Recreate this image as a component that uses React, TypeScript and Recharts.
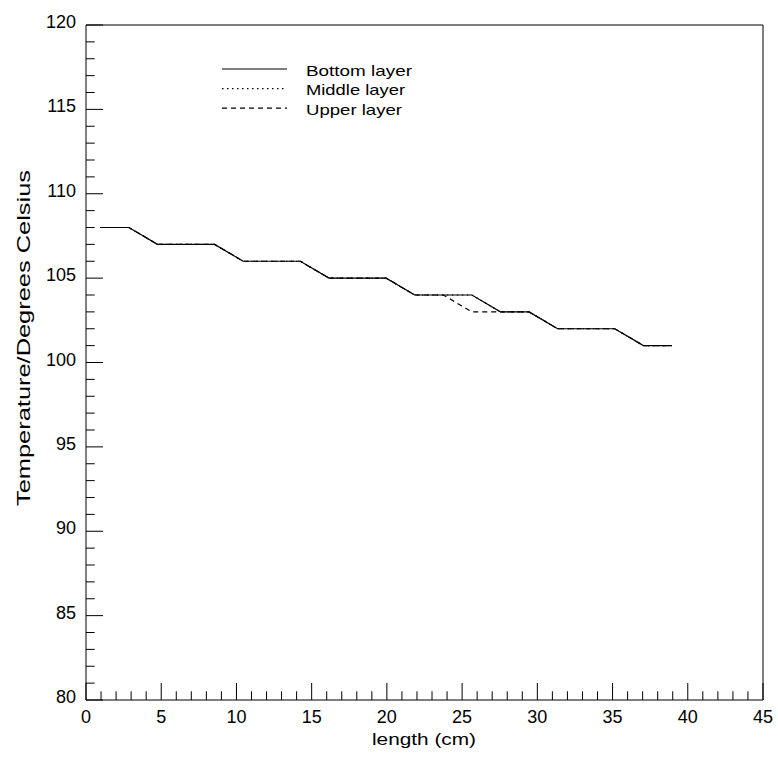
import React from 'react';
import { LineChart, Line, XAxis, YAxis, ReferenceLine } from 'recharts';

// positions along the plate (cm)
const lengthCm = [0.95, 2.85, 4.75, 6.65, 8.55, 10.45, 12.35, 14.25, 16.15, 18.05, 19.95, 21.85, 23.75, 25.65, 27.55, 29.45, 31.35, 33.25, 35.15, 37.05, 38.95];
const bottomLayer = [108, 108, 107, 107, 107, 106, 106, 106, 105, 105, 105, 104, 104, 104, 103, 103, 102, 102, 102, 101, 101];
const middleLayer = [108, 108, 107, 107, 107, 106, 106, 106, 105, 105, 105, 104, 104, 104, 103, 103, 102, 102, 102, 101, 101];
const upperLayer = [108, 108, 107, 107, 107, 106, 106, 106, 105, 105, 105, 104, 104, 103, 103, 103, 102, 102, 102, 101, 101];

const xTicks = Array.from({ length: 46 }, (_, i) => i);
const yTicks = Array.from({ length: 41 }, (_, i) => 80 + i);

const data = lengthCm.map((x, i) => ({
  x,
  bottom: bottomLayer[i],
  middle: middleLayer[i],
  upper: upperLayer[i],
}));

const FONT = '"Liberation Sans", Arial, Helvetica, sans-serif';

const XTick = (props: any) => {
  const { x, y, payload } = props;
  const major = payload.value % 5 === 0;
  return (
    <g>
      <line x1={x} x2={x} y1={y} y2={y - (major ? 17 : 8.7)} stroke="#000" strokeWidth={1} />
      {major && (
        <text x={x} y={y + 23} textAnchor="middle" fontSize={18} fontFamily={FONT} fill="#000">
          {payload.value}
        </text>
      )}
    </g>
  );
};

const YTick = (props: any) => {
  const { x, y, payload } = props;
  const major = payload.value % 5 === 0;
  return (
    <g>
      <line x1={x} x2={x + (major ? 17 : 8.7)} y1={y} y2={y} stroke="#000" strokeWidth={1} />
      {major && (
        <text x={x - 10} y={y + 3} textAnchor="end" fontSize={18} fontFamily={FONT} fill="#000">
          {payload.value}
        </text>
      )}
    </g>
  );
};

const legendItems = [
  { name: 'Bottom layer', dash: undefined, len: 106 },
  { name: 'Middle layer', dash: '1.5 3.5', len: 99 },
  { name: 'Upper layer', dash: '5 4', len: 96 },
];

export default function App() {
  return (
    <div style={{ position: 'absolute', left: 0, top: 0, width: 778, height: 759, background: '#fff' }}>
      <LineChart width={778} height={759} data={data} margin={{ top: 25, right: 15, bottom: 29, left: 26 }}>
        <XAxis
          dataKey="x"
          type="number"
          domain={[0, 45]}
          ticks={xTicks}
          interval={0}
          tickLine={false}
          tickSize={0}
          tickMargin={0}
          height={30}
          axisLine={{ stroke: '#000', strokeWidth: 1 }}
          tick={<XTick />}
        />
        <YAxis
          type="number"
          domain={[80, 120]}
          ticks={yTicks}
          interval={0}
          tickLine={false}
          tickSize={0}
          tickMargin={0}
          width={60}
          axisLine={{ stroke: '#000', strokeWidth: 1 }}
          tick={<YTick />}
        />
        <ReferenceLine y={120} stroke="#000" strokeWidth={1} />
        <ReferenceLine x={45} stroke="#000" strokeWidth={1} />
        <Line dataKey="upper" stroke="#000" strokeWidth={1.2} strokeDasharray="5 4" dot={false} activeDot={false} isAnimationActive={false} />
        <Line dataKey="middle" stroke="#000" strokeWidth={1.2} strokeDasharray="1.5 3.5" dot={false} activeDot={false} isAnimationActive={false} />
        <Line dataKey="bottom" stroke="#000" strokeWidth={1.2} dot={false} activeDot={false} isAnimationActive={false} />
      </LineChart>
      <svg width={778} height={759} style={{ position: 'absolute', left: 0, top: 0, pointerEvents: 'none' }}>
        {legendItems.map((item, i) => (
          <g key={item.name}>
            <line x1={222} x2={287} y1={69 + i * 19.6} y2={69 + i * 19.6} stroke="#000" strokeWidth={1.2} strokeDasharray={item.dash} />
            <text x={306} y={75.7 + i * 19.6} fontSize={15} fontFamily={FONT} fill="#000" textLength={item.len} lengthAdjust="spacingAndGlyphs">
              {item.name}
            </text>
          </g>
        ))}
        <text x={424} y={745} textAnchor="middle" fontSize={17} fontFamily={FONT} fill="#000" textLength={104} lengthAdjust="spacingAndGlyphs">
          length (cm)
        </text>
        <text x={30} y={338} transform="rotate(-90 30 338)" textAnchor="middle" fontSize={19} fontFamily={FONT} fill="#000" textLength={336} lengthAdjust="spacingAndGlyphs">
          Temperature/Degrees Celsius
        </text>
      </svg>
    </div>
  );
}
